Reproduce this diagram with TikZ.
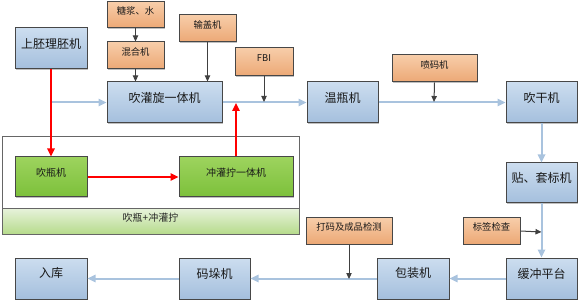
\documentclass[tikz,border=0pt]{standalone}
\usepackage{fontspec}
\setmainfont{Noto Sans CJK SC}
\usetikzlibrary{arrows.meta,fit,shadows}
\definecolor{bluetop}{HTML}{CCDDEF}
\definecolor{bluebot}{HTML}{A4BFDD}
\definecolor{orgtop}{HTML}{F7CDA9}
\definecolor{orgbot}{HTML}{ECA875}
\definecolor{grntop}{HTML}{9DD35E}
\definecolor{grnbot}{HTML}{7CC03A}
\definecolor{bartop}{HTML}{E6F2D9}
\definecolor{barbot}{HTML}{B6DB8C}
\definecolor{lineblue}{HTML}{A9C3DE}
\definecolor{darkline}{HTML}{404040}
\begin{document}
\begin{tikzpicture}[x=0.75pt,y=-0.75pt,
  base/.style={draw=black!72, line width=0.75pt, inner sep=0pt, text=black!90,
    general shadow={shadow xshift=0.9pt, shadow yshift=-0.9pt, fill=black, opacity=0.25}},
  bluebox/.style={base, top color=bluetop, bottom color=bluebot, font=\fontsize{9}{10}\selectfont},
  orgbox/.style={base, top color=orgtop, bottom color=orgbot, font=\fontsize{7}{8}\selectfont},
  grnbox/.style={base, top color=grntop, bottom color=grnbot, font=\fontsize{7.5}{8.5}\selectfont},
  contbox/.style={draw=black!60, line width=0.75pt, fill=white, inner sep=0pt},
  barbox/.style={draw=black!60, line width=0.75pt, inner sep=0pt, top color=bartop, bottom color=barbot, text=black!85, font=\fontsize{7.5}{8.5}\selectfont},
  bline/.style={draw=lineblue, line width=1.5pt, -{Triangle[length=6pt,width=5.5pt]}},
  rline/.style={draw=red, line width=1.1pt, -{Triangle[length=6pt,width=5.5pt]}},
  dline/.style={draw=darkline, line width=0.75pt, -{Triangle[length=4.5pt,width=4pt]}}
]
\useasboundingbox (0,0) rectangle (580,302);

% container for blow + rinse/fill/cap
\node[contbox, fit={(2,137) (299,234)}] (cont) {};
\node[barbox, fit={(2,209) (299,234)}] (bar) {吹瓶+冲灌拧};

% blue process boxes
\node[bluebox, fit={(15,28) (87,69)}] (A) {上胚理胚机};
\node[bluebox, fit={(107,82) (222,123)}] (B) {吹灌旋一体机};
\node[bluebox, fit={(307,82) (378,123)}] (C) {温瓶机};
\node[bluebox, fit={(506,82) (577,123)}] (D) {吹干机};
\node[bluebox, fit={(506,163) (577,203)}] (E) {贴、套标机};
\node[bluebox, fit={(506,258) (577,299)}] (F) {缓冲平台};
\node[bluebox, fit={(377,258) (449,299)}] (G) {包装机};
\node[bluebox, fit={(179,258) (250,299)}] (H) {码垛机};
\node[bluebox, fit={(15,258) (87,299)}] (I) {入库};

% orange auxiliary boxes
\node[orgbox, fit={(107,2) (164,28)}] (O1) {糖浆、水};
\node[orgbox, fit={(107,42) (164,69)}] (O2) {混合机};
\node[orgbox, fit={(179,15) (236,42)}] (O3) {输盖机};
\node[orgbox, fit={(235,48) (293,76)}] (O4) {FBI};
\node[orgbox, fit={(392,55) (477,82)}] (O5) {喷码机};
\node[orgbox, fit={(306,218) (392,244)}] (O6) {打码及成品检测};
\node[orgbox, fit={(463,218) (520,244)}] (O7) {标签检查};

% green boxes
\node[grnbox, fit={(15,157) (87,197)}] (G1) {吹瓶机};
\node[grnbox, fit={(179,157) (293,197)}] (G2) {冲灌拧一体机};

% junction coordinates on the main lines
\coordinate (jFBI) at (264,102);
\coordinate (jRed) at (236,103);
\coordinate (jPen) at (434,102);
\coordinate (jLab) at (541.5,232);
\coordinate (jDam) at (349,279);

% blue main flow
\draw[bline] (A.south) |- (B.west);
\draw[bline] (B.east) -- (C.west);
\draw[bline] (C.east) -- (D.west);
\draw[bline] (D.south) -- (E.north);
\draw[bline] (E.south) -- (F.north);
\draw[bline] (F.west) -- (G.west -| F.west) -- (G.east);
\draw[bline] (G.west) -- (H.east);
\draw[bline] (H.west) -- (I.east);

% dark auxiliary arrows
\draw[dline] (O1.south) -- (O2.north);
\draw[dline] (O2.south) -- (O2.south |- B.north);
\draw[dline] (O3.south) -- (O3.south |- B.north);
\draw[dline] (O4.south) -- (jFBI);
\draw[dline] (O5.south) -- (jPen);
\draw[dline] (O7.east) -- (jLab);
\draw[dline] (O6.south) -- (jDam);

% red alternative route
\draw[rline] (A.south) -- (G1.north);
\draw[rline] (G1.east) -- (G2.west);
\draw[rline] (G2.north) -- (jRed);
\end{tikzpicture}
\end{document}
